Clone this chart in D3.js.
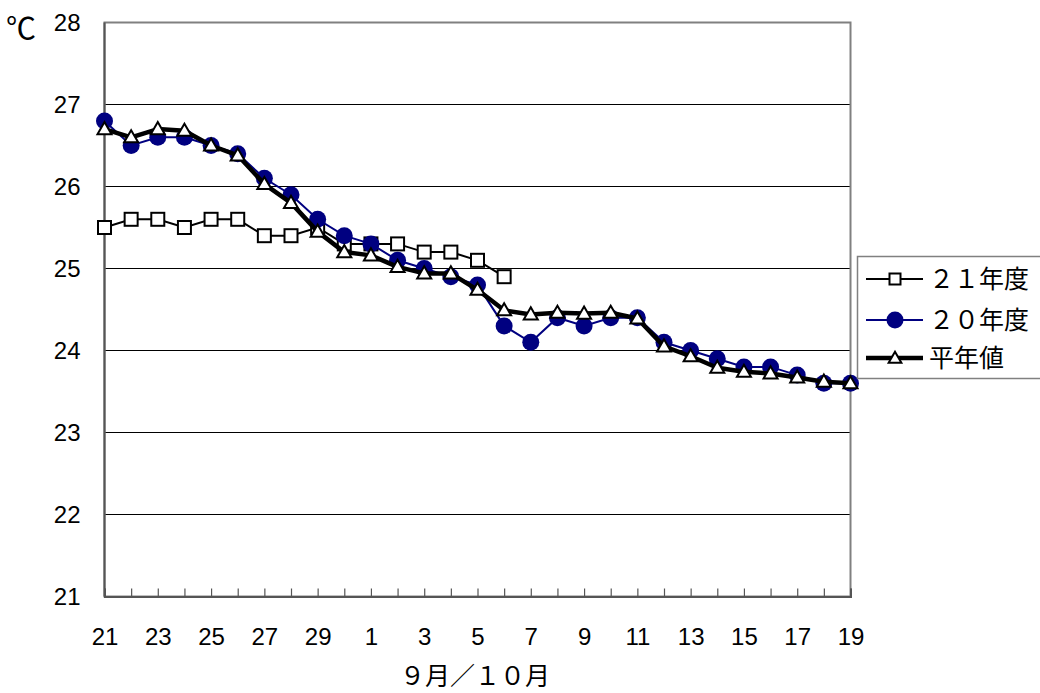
<!DOCTYPE html>
<html>
<head>
<meta charset="utf-8">
<script src="https://cdn.jsdelivr.net/npm/d3@7"></script>
<style>
  body { margin: 0; background: #fff; }
  text { font-family: "Liberation Sans", Arial, sans-serif; fill: #000; }
  .jp { font-family: "Noto Sans CJK JP", sans-serif; }
</style>
</head>
<body>
<svg width="1040" height="693"></svg>
<script>
const svg = d3.select("svg");

// days Sep 21 .. Oct 19
const days = ["21","22","23","24","25","26","27","28","29","30",
  "1","2","3","4","5","6","7","8","9","10","11","12","13","14","15","16","17","18","19"];

const yTicks = [21, 22, 23, 24, 25, 26, 27, 28];

const y21 = [25.5, 25.6, 25.6, 25.5, 25.6, 25.6, 25.4, 25.4, 25.5, 25.3,
  25.3, 25.3, 25.2, 25.2, 25.1, 24.9];

const y20 = [26.8, 26.5, 26.6, 26.6, 26.5, 26.4, 26.1, 25.9, 25.6, 25.4,
  25.3, 25.1, 25.0, 24.9, 24.8, 24.3, 24.1, 24.4, 24.3, 24.4,
  24.4, 24.1, 24.0, 23.9, 23.8, 23.8, 23.7, 23.6, 23.6];

const normal = [26.7, 26.6, 26.7, 26.68, 26.5, 26.38, 26.03, 25.8, 25.45, 25.2,
  25.16, 25.02, 24.94, 24.94, 24.74, 24.49, 24.44, 24.46, 24.45, 24.46,
  24.39, 24.05, 23.93, 23.79, 23.74, 23.72, 23.67, 23.62, 23.6];

const seriesNames = ["２１年度", "２０年度", "平年値"];

const plotLeft = 104.5, plotRight = 850.5, plotTop = 22.5, plotBottom = 596.5;

const x = d3.scaleLinear().domain([0, days.length - 1]).range([plotLeft, plotRight]);
const y = d3.scaleLinear().domain([21, 28]).range([plotBottom, plotTop]);

// gridlines
svg.append("g")
  .selectAll("line")
  .data(yTicks.slice(1, -1))
  .join("line")
  .attr("x1", plotLeft).attr("x2", plotRight)
  .attr("y1", d => y(d)).attr("y2", d => y(d))
  .attr("stroke", "#000").attr("stroke-width", 1);

// plot frame
svg.append("rect")
  .attr("x", plotLeft).attr("y", plotTop)
  .attr("width", plotRight - plotLeft).attr("height", plotBottom - plotTop)
  .attr("fill", "none").attr("stroke", "#808080").attr("stroke-width", 2);

// y axis line
svg.append("line")
  .attr("x1", plotLeft).attr("x2", plotLeft).attr("y1", plotTop).attr("y2", plotBottom)
  .attr("stroke", "#555").attr("stroke-width", 2);

// x axis with inside ticks
const xAxis = d3.axisBottom(x)
  .tickValues(d3.range(days.length))
  .tickSize(-8)
  .tickFormat((d, i) => (i % 2 === 0 ? days[i] : ""));

const gx = svg.append("g")
  .attr("transform", `translate(0,${plotBottom})`)
  .call(xAxis);
gx.select(".domain").attr("stroke", "#555").attr("stroke-width", 2);
gx.selectAll(".tick line").attr("stroke", "#555").attr("stroke-width", 1.2);
gx.selectAll(".tick text")
  .attr("y", 31)
  .attr("dy", "0.71em")
  .style("font-size", "24px")
  .style("font-family", "'Liberation Sans', Arial, sans-serif")
  .attr("fill", "#000");

// y axis labels
const yAxis = d3.axisLeft(y).tickValues(yTicks).tickFormat(d3.format("d"))
  .tickSize(0).tickPadding(24);
const gy = svg.append("g").attr("transform", `translate(${plotLeft},0)`).call(yAxis);
gy.select(".domain").remove();
gy.selectAll(".tick text")
  .style("font-size", "24px")
  .style("font-family", "'Liberation Sans', Arial, sans-serif")
  .attr("fill", "#000");

// unit label
svg.append("text")
  .attr("class", "jp")
  .attr("x", 6).attr("y", 39)
  .style("font-size", "30px")
  .text("℃");

// x title
svg.append("text")
  .attr("class", "jp")
  .attr("x", 475).attr("y", 685)
  .attr("text-anchor", "middle")
  .style("font-size", "25px")
  .text("９月／１０月");

const line = d3.line().x((d, i) => x(i)).y(d => y(d));
const tri = d3.symbol().type(d3.symbolTriangle);

// 21年度
svg.append("path").datum(y21)
  .attr("d", line).attr("fill", "none")
  .attr("stroke", "#000").attr("stroke-width", 2);
svg.append("g").selectAll("rect").data(y21).join("rect")
  .attr("x", (d, i) => x(i) - 6.5).attr("y", d => y(d) - 6.5)
  .attr("width", 13).attr("height", 13)
  .attr("fill", "#fff").attr("stroke", "#000").attr("stroke-width", 2);

// 20年度
svg.append("path").datum(y20)
  .attr("d", line).attr("fill", "none")
  .attr("stroke", "#000080").attr("stroke-width", 2);
svg.append("g").selectAll("circle").data(y20).join("circle")
  .attr("cx", (d, i) => x(i)).attr("cy", d => y(d))
  .attr("r", 8.5).attr("fill", "#000080");

// 平年値
svg.append("path").datum(normal)
  .attr("d", line).attr("fill", "none")
  .attr("stroke", "#000").attr("stroke-width", 4.5).attr("stroke-linejoin", "round");
svg.append("g").selectAll("path").data(normal).join("path")
  .attr("d", tri.size(85))
  .attr("transform", (d, i) => `translate(${x(i)},${y(d) + 1})`)
  .attr("fill", "#fff").attr("stroke", "#000").attr("stroke-width", 2);

// legend
const lg = svg.append("g");
lg.append("rect")
  .attr("x", 857.5).attr("y", 256.5).attr("width", 190).attr("height", 122)
  .attr("fill", "#fff").attr("stroke", "#808080").attr("stroke-width", 1.5);

const rowY = [279, 320, 358];
const lx1 = 866, lx2 = 923, mx = 895;

// row 1
lg.append("line").attr("x1", lx1).attr("x2", lx2).attr("y1", rowY[0]).attr("y2", rowY[0])
  .attr("stroke", "#000").attr("stroke-width", 2);
lg.append("rect").attr("x", mx - 5.5).attr("y", rowY[0] - 5.5).attr("width", 11).attr("height", 11)
  .attr("fill", "#fff").attr("stroke", "#000").attr("stroke-width", 2);
// row 2
lg.append("line").attr("x1", lx1).attr("x2", lx2).attr("y1", rowY[1]).attr("y2", rowY[1])
  .attr("stroke", "#000080").attr("stroke-width", 2);
lg.append("circle").attr("cx", mx).attr("cy", rowY[1]).attr("r", 8.5).attr("fill", "#000080");
// row 3
lg.append("line").attr("x1", lx1).attr("x2", lx2).attr("y1", rowY[2]).attr("y2", rowY[2])
  .attr("stroke", "#000").attr("stroke-width", 4.5);
lg.append("path").attr("d", tri.size(70))
  .attr("transform", `translate(${mx},${rowY[2] + 1})`)
  .attr("fill", "#fff").attr("stroke", "#000").attr("stroke-width", 2);

lg.selectAll("text.leg").data(seriesNames).join("text")
  .attr("class", "leg jp")
  .attr("x", 929).attr("y", (d, i) => rowY[i])
  .attr("dy", "0.36em")
  .style("font-size", "25px")
  .text(d => d);
</script>
</body>
</html>
